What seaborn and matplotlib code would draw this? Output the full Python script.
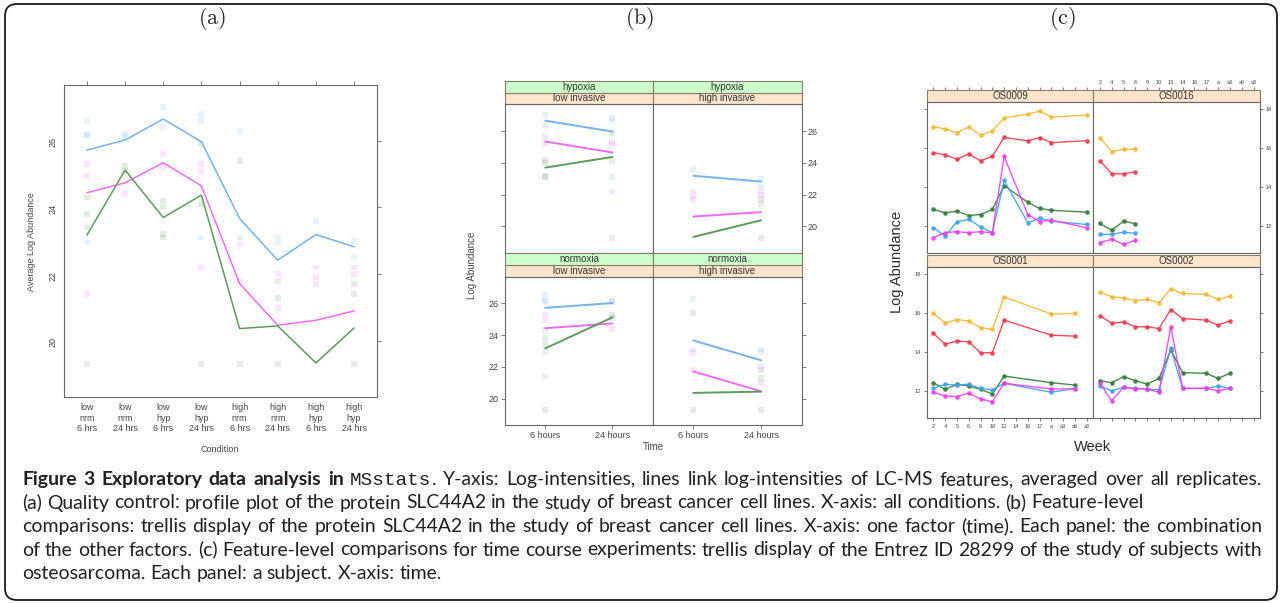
import pandas as pd
import seaborn as sns
import matplotlib.pyplot as plt
from matplotlib.patches import Rectangle, FancyBboxPatch
from matplotlib.transforms import IdentityTransform

# ---------------- data: panels (a) and (b), protein SLC44A2 ----------------
conditions = ["low\nnrm\n6 hrs", "low\nnrm\n24 hrs", "low\nhyp\n6 hrs", "low\nhyp\n24 hrs",
              "high\nnrm\n6 hrs", "high\nnrm\n24 hrs", "high\nhyp\n6 hrs", "high\nhyp\n24 hrs"]
invasiveness = ["low invasive"] * 4 + ["high invasive"] * 4
oxygen = ["normoxia", "normoxia", "hypoxia", "hypoxia"] * 2
time_points = ["6 hours", "24 hours"]

# averaged log abundance of the three features
feat1_mean = [25.72, 26.02, 26.65, 25.97, 23.67, 22.42, 23.19, 22.82]
feat2_mean = [24.44, 24.74, 25.34, 24.65, 21.72, 20.47, 20.62, 20.90]
feat3_mean = [23.17, 25.12, 23.70, 24.37, 20.37, 20.45, 19.34, 20.39]

# faint replicate values (condition index, value)
feat1_rep_cond = [0, 0, 0, 0, 1, 1, 2, 2, 3, 3, 3, 4, 4, 5, 5, 6, 7, 7]
feat1_rep_val = [26.6, 26.2, 26.15, 22.95, 26.2, 26.1, 27.0, 26.4, 26.8, 26.6, 23.1, 26.3, 23.1, 23.1, 22.95, 23.6, 23.0, 22.5]
feat2_rep_cond = [0, 0, 0, 1, 2, 2, 3, 3, 3, 4, 4, 5, 5, 6, 6, 6, 7, 7]
feat2_rep_val = [25.3, 24.95, 21.4, 24.4, 25.6, 25.2, 25.3, 25.1, 22.2, 22.9, 21.8, 22.0, 21.0, 22.2, 21.9, 21.7, 22.2, 22.0]
feat3_rep_cond = [0, 0, 0, 1, 1, 2, 2, 2, 2, 3, 3, 5, 7]
feat3_rep_val = [24.3, 23.8, 23.4, 25.25, 25.1, 24.2, 24.0, 23.2, 23.1, 25.9, 24.1, 21.3, 21.4]
other_rep_cond = [0, 3, 4, 4, 5, 5, 7, 7]
other_rep_val = [19.3, 19.3, 19.3, 25.4, 19.3, 21.8, 21.7, 19.3]

# ---------------- data: panel (c), Entrez ID 28299 ----------------
weeks = ["2", "4", "5", "6", "9", "10", "13", "14", "16", "17", "a", "a3", "a6", "a8"]
features_c = ["f1", "f2", "f3", "f4", "f5"]
N = None
os0009 = [
    [17.10, 16.98, 16.79, 17.08, 16.67, 16.88, 17.56, N, 17.74, 17.90, 17.59, N, N, 17.69],
    [15.77, 15.65, 15.43, 15.70, 15.35, 15.57, 16.55, N, 16.37, 16.54, 16.28, N, N, 16.38],
    [12.85, 12.68, 12.76, 12.54, 12.59, 12.85, 14.07, N, 13.22, 12.90, 12.81, N, N, 12.71],
    [11.91, 11.49, 12.22, 12.34, 11.96, 11.66, 14.34, N, 12.17, 12.40, 12.25, N, N, 12.08],
    [11.40, 11.66, 11.71, 11.66, 11.71, 11.66, 15.57, N, 12.59, 12.23, 12.30, N, N, 11.91],
]
os0016 = [
    [16.54, 15.82, 15.94, 15.94] + [N] * 10,
    [15.35, 14.68, 14.68, 14.77] + [N] * 10,
    [12.13, 11.78, 12.25, 12.12] + [N] * 10,
    [11.57, 11.57, 11.69, 11.62] + [N] * 10,
    [11.15, 11.32, 11.06, 11.27] + [N] * 10,
]
os0001 = [
    [15.96, 15.48, 15.65, 15.57, 15.24, 15.14, 16.81, N, N, N, 15.93, N, 15.96, N],
    [14.94, 14.39, 14.55, 14.51, 13.95, 13.95, 15.62, N, N, N, 14.85, N, 14.80, N],
    [12.42, 12.08, 12.34, 12.25, 12.08, 11.84, 12.76, N, N, N, 12.42, N, 12.30, N],
    [12.13, 12.34, 12.30, 12.34, 12.13, 12.05, 12.39, N, N, N, 11.93, N, 12.13, N],
    [11.93, 11.74, 11.71, 11.88, 11.59, 11.45, 12.39, N, N, N, 12.10, N, 12.10, N],
]
os0002 = [
    [17.06, 16.81, 16.76, 16.61, 16.68, 16.50, 17.22, 16.98, N, 16.93, 16.68, 16.84, N, N],
    [15.84, 15.45, 15.53, 15.28, 15.28, 15.19, 16.16, 15.70, N, 15.62, 15.36, 15.58, N, N],
    [12.52, 12.42, 12.73, 12.52, 12.35, 12.64, 14.09, 12.93, N, 12.90, 12.64, 12.90, N, N],
    [12.25, 12.00, 12.18, 12.13, 12.10, 12.05, 14.17, 12.13, N, 12.13, 12.25, 12.13, N, N],
    [12.39, 11.50, 12.18, 12.10, 12.10, 11.93, 15.28, 12.13, N, 12.13, 12.01, 12.13, N, N],
]

pal_ab = {"feat1": "#74b3ee", "feat2": "#f26af2", "feat3": "#5a9c5a", "other": "#8a8a8a"}
pal_c = {"f1": "#f7b731", "f2": "#f2384a", "f3": "#2f7d34", "f4": "#3aa2f5", "f5": "#f03cf0"}

# long tables
rows = []
for name, vals in zip(["feat1", "feat2", "feat3"], [feat1_mean, feat2_mean, feat3_mean]):
    for i, v in enumerate(vals):
        rows.append(dict(cond=i, value=v, feature=name, inv=invasiveness[i], oxy=oxygen[i], t=i % 2))
mean_df = pd.DataFrame(rows)

rows = []
for name, cs, vs in [("feat1", feat1_rep_cond, feat1_rep_val), ("feat2", feat2_rep_cond, feat2_rep_val),
                     ("feat3", feat3_rep_cond, feat3_rep_val), ("other", other_rep_cond, other_rep_val)]:
    for c, v in zip(cs, vs):
        rows.append(dict(cond=c, value=v, feature=name, inv=invasiveness[c], oxy=oxygen[c], t=c % 2))
rep_df = pd.DataFrame(rows)

rows = []
for subj, table in zip(["OS0009", "OS0016", "OS0001", "OS0002"], [os0009, os0016, os0001, os0002]):
    for feat, vals in zip(features_c, table):
        for w, v in enumerate(vals):
            if v is not None:
                rows.append(dict(subject=subj, feature=feat, week=w, value=v))
c_df = pd.DataFrame(rows)

# ---------------- figure ----------------
sns.set_style("white")
plt.rcParams["font.family"] = ["Liberation Sans", "DejaVu Sans"]
plt.rcParams["mathtext.fontset"] = "cm"

W, H = 1282, 603
fig = plt.figure(figsize=(W / 100, H / 100), dpi=100)

TXT = "#444444"


def px_axes(x0, y0, x1, y1):
    return fig.add_axes([x0 / W, 1 - y1 / H, (x1 - x0) / W, (y1 - y0) / H])


def lattice_frame(ax, size=6.5):
    for s in ax.spines.values():
        s.set_visible(True)
        s.set_color("#666666")
        s.set_linewidth(0.8)
    ax.tick_params(direction="out", length=3, width=0.6, color="#666666",
                   labelcolor=TXT, labelsize=size, pad=1.5)
    ax.set_xlabel("")
    ax.set_ylabel("")


def strip(ax, text, bottom, height, color, fs=7):
    ax.add_patch(Rectangle((0, 1 + bottom), 1, height, transform=ax.transAxes, facecolor=color,
                           edgecolor="#8c7a66", lw=0.8, clip_on=False))
    ax.text(0.5, 1 + bottom + height / 2, text, transform=ax.transAxes, ha="center", va="center",
            fontsize=fs, color="#333333")


# panel titles
for label, xc in [("a", 212), ("b", 640), ("c", 1062)]:
    fig.text(xc / W, 1 - 18 / H, r"$(\mathrm{%s})$" % label, fontsize=16, ha="center", va="center")

# ---- (a) profile plot
ax = px_axes(64, 85, 377, 397)
sns.scatterplot(data=rep_df, x="cond", y="value", hue="feature", palette=pal_ab, marker="s", s=18,
                alpha=0.18, linewidth=0, legend=False, ax=ax)
sns.lineplot(data=mean_df, x="cond", y="value", hue="feature", palette=pal_ab, estimator=None,
             lw=1.1, legend=False, ax=ax)
ax.set_xlim(-0.6, 7.6)
ax.set_ylim(18.32, 27.67)
ax.set_xticks(range(8), conditions)
ax.set_yticks([20, 22, 24, 26])
lattice_frame(ax)
ax.tick_params(top=True, right=True, labeltop=False, labelright=False)
ax.tick_params(axis="y", labelrotation=90)
for t in ax.get_xticklabels():
    t.set_linespacing(1.2)
fig.text(32 / W, 1 - 242 / H, "Average Log Abundance", rotation=90, fontsize=6.5, color=TXT,
         ha="center", va="center")
fig.text(220 / W, 1 - 449 / H, "Condition", fontsize=6.5, color=TXT, ha="center", va="center")

# ---- (b) trellis by time
cols_b = [(505, 652.7), (652.7, 801.7)]
rows_b = [(104.3, 252.7), (276.7, 425)]
panels_b = [(0, 0, "hypoxia", "low invasive"), (0, 1, "hypoxia", "high invasive"),
            (1, 0, "normoxia", "low invasive"), (1, 1, "normoxia", "high invasive")]
for r, c, oxy, inv in panels_b:
    ax = px_axes(cols_b[c][0], rows_b[r][0], cols_b[c][1], rows_b[r][1])
    sel_m = mean_df[(mean_df.oxy == oxy) & (mean_df.inv == inv)]
    sel_r = rep_df[(rep_df.oxy == oxy) & (rep_df.inv == inv)]
    sns.scatterplot(data=sel_r, x="t", y="value", hue="feature", palette=pal_ab, marker="s", s=18,
                    alpha=0.18, linewidth=0, legend=False, ax=ax)
    sns.lineplot(data=sel_m, x="t", y="value", hue="feature", palette=pal_ab, estimator=None,
                 lw=1.4, legend=False, ax=ax)
    ax.set_xlim(-0.6, 1.6)
    ax.set_ylim(18.35, 27.68)
    ax.set_xticks([0, 1], time_points)
    ax.set_yticks([20, 22, 24, 26])
    lattice_frame(ax)
    ax.tick_params(top=False, bottom=(r == 1), labelbottom=(r == 1),
                   left=(c == 0), labelleft=(r == 1 and c == 0),
                   right=(c == 1), labelright=(r == 0 and c == 1))
    hs = 11.7 / (rows_b[r][1] - rows_b[r][0])
    strip(ax, inv, 0, hs, "#ffe5cc")
    strip(ax, oxy, hs, hs, "#ccffcc")
fig.text(472 / W, 1 - 265 / H, "Log Abundance", rotation=90, fontsize=7, color=TXT, ha="center", va="center")
fig.text(653 / W, 1 - 447 / H, "Time", fontsize=7, color=TXT, ha="center", va="center")

# ---- (c) time course trellis
cols_c = [(926.7, 1093.3), (1093.3, 1260)]
rows_c = [(102.3, 253.3), (266.7, 418.3)]
panels_c = [(0, 0, "OS0009"), (0, 1, "OS0016"), (1, 0, "OS0001"), (1, 1, "OS0002")]
for r, c, subj in panels_c:
    ax = px_axes(cols_c[c][0], rows_c[r][0], cols_c[c][1], rows_c[r][1])
    sub = c_df[c_df.subject == subj]
    sns.lineplot(data=sub, x="week", y="value", hue="feature", palette=pal_c, estimator=None,
                 marker="o", markersize=3.3, markeredgewidth=0, lw=1.0, alpha=0.9,
                 legend=False, ax=ax)
    ax.set_xlim(-0.56, 13.55)
    ax.set_ylim(10.6, 18.35)
    ax.set_xticks(range(14), weeks)
    ax.set_yticks([12, 14, 16, 18])
    lattice_frame(ax, size=4)
    ax.tick_params(length=2.5, top=False, bottom=(r == 1), labelbottom=(r == 1 and c == 0),
                   left=(c == 0), labelleft=(r == 1 and c == 0),
                   right=(c == 1), labelright=(r == 0 and c == 1))
    hs = 12 / (rows_c[r][1] - rows_c[r][0])
    strip(ax, subj, 0, hs, "#ffe5cc")
    if r == 0:
        sec = ax.secondary_xaxis(1 + hs)
        sec.set_xticks(range(14), weeks if c == 1 else [""] * 14)
        for s in sec.spines.values():
            s.set_visible(False)
        sec.tick_params(direction="out", length=2.5, width=0.6, color="#666666",
                        labelcolor=TXT, labelsize=4, pad=1.5)
fig.text(897 / W, 1 - 262 / H, "Log Abundance", rotation=90, fontsize=10.5, color="#2a2a2a",
         ha="center", va="center")
fig.text(1093 / W, 1 - 447 / H, "Week", fontsize=10.5, color="#2a2a2a", ha="center", va="center")

# ---- outer rounded frame
fig.add_artist(FancyBboxPatch((5, 3), 1272, 596, boxstyle="round,pad=0,rounding_size=12",
                              transform=IdentityTransform(), fill=False, ec="#1a1a1a", lw=1.3))

# ---- caption (justified lines)
caption_lines = [
    ([("Figure 3 Exploratory data analysis in ", "b"), ("MSstats", "m"),
      (". Y-axis: Log-intensities, lines link log-intensities of LC-MS features, averaged over all replicates.", "r")], True),
    ([("(a) Quality control: profile plot of the protein SLC44A2 in the study of breast cancer cell lines. "
       "X-axis: all conditions. (b) Feature-level", "r")], False),
    ([("comparisons: trellis display of the protein SLC44A2 in the study of breast cancer cell lines. "
       "X-axis: one factor (time). Each panel: the combination", "r")], True),
    ([("of the other factors. (c) Feature-level comparisons for time course experiments: trellis display "
       "of the Entrez ID 28299 of the study of subjects with", "r")], True),
    ([("osteosarcoma. Each panel: a subject. X-axis: time.", "r")], False),
]
baselines = [485, 508.5, 532, 555.5, 579]
cap_styles = {"b": dict(family="Lato", weight="bold"), "r": dict(family="Lato"),
              "m": dict(family="Liberation Mono")}
X_LEFT, X_RIGHT = 22, 1262

renderer = fig.canvas.get_renderer()


def split_words(segments):
    words = [[]]
    for text, st in segments:
        for k, part in enumerate(text.split(" ")):
            if k > 0:
                words.append([])
            if part:
                words[-1].append((part, st))
    return [w for w in words if w]


def wpx(t):
    return t.get_window_extent(renderer).width


lines = []
for segs, just in caption_lines:
    objs = [[fig.text(0, 0, p, fontsize=12, va="baseline", color="#231f20", **cap_styles[st])
             for p, st in word] for word in split_words(segs)]
    lines.append((objs, just))


def space_width(fs):
    a = fig.text(0, 0, "n n", fontsize=fs, **cap_styles["r"])
    b = fig.text(0, 0, "nn", fontsize=fs, **cap_styles["r"])
    w = wpx(a) - wpx(b)
    a.remove()
    b.remove()
    return w


def natural(objs, sp):
    return sum(wpx(p) for w in objs for p in w) + sp * (len(objs) - 1)


# fit font size so the widest justified line spans the caption width
nat = max(natural(o, space_width(12)) for o, j in lines if j)
fs = 12 * (X_RIGHT - X_LEFT - 6) / nat
for objs, _ in lines:
    for w in objs:
        for p in w:
            p.set_fontsize(fs)
sp = space_width(fs)

for (objs, just), yb in zip(lines, baselines):
    widths = [[wpx(p) for p in w] for w in objs]
    total = sum(sum(w) for w in widths)
    gap = (X_RIGHT - X_LEFT - total) / (len(objs) - 1) if just else sp
    x = X_LEFT
    for w, ws in zip(objs, widths):
        for p, pw in zip(w, ws):
            p.set_position((x / W, 1 - yb / H))
            x += pw
        x += gap

fig.savefig("out.png", dpi=100)
